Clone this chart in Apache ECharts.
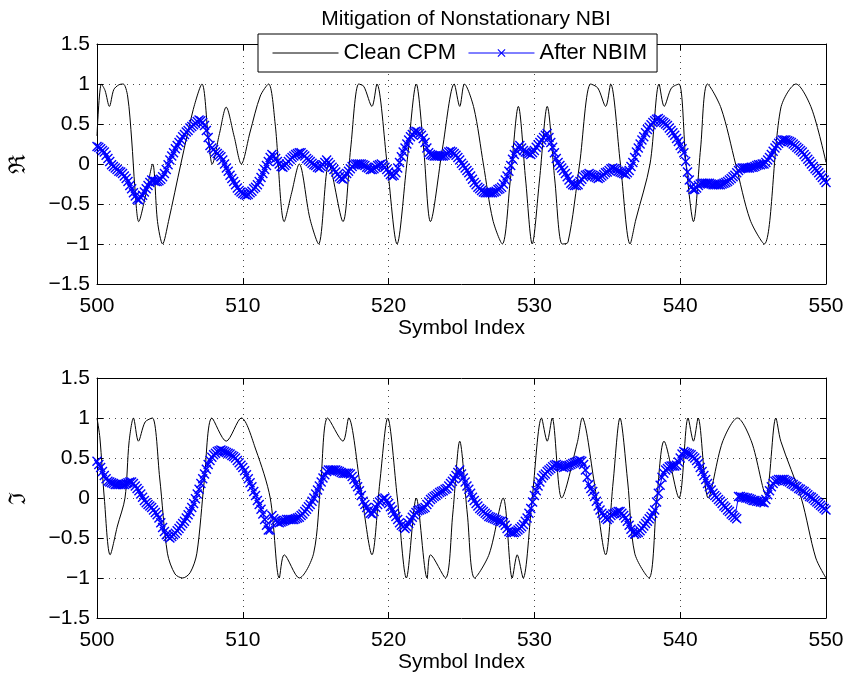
<!DOCTYPE html>
<html>
<head>
<meta charset="utf-8">
<title>Mitigation of Nonstationary NBI</title>
<script src="https://cdn.jsdelivr.net/npm/echarts@6/dist/echarts.min.js"></script>
<style>
  html, body { margin: 0; padding: 0; background: #fff; }
  #chart { width: 847px; height: 678px; }
</style>
</head>
<body>
<div id="chart"></div>
<script>
// x ticks / y ticks
const xTicks = [500, 510, 520, 530, 540, 550]
const yTicks = [-1.5, -1, -0.5, 0, 0.5, 1, 1.5]

// blue curve is sampled every 1/8 symbol, 500 .. 550 (one row per symbol)
const sampleStep = 0.125
const sampleStart = 500

// After NBIM, real part
const nbimRe = [
  0.22, 0.21, 0.19, 0.17, 0.15, 0.11, 0.07, 0.03,
  -0.01, -0.03, -0.05, -0.07, -0.09, -0.10, -0.12, -0.15,
  -0.18, -0.22, -0.27, -0.31, -0.36, -0.40, -0.44, -0.45,
  -0.42, -0.39, -0.35, -0.31, -0.27, -0.23, -0.20, -0.21,
  -0.22, -0.22, -0.21, -0.19, -0.16, -0.12, -0.07, -0.01,
  0.05, 0.10, 0.14, 0.19, 0.23, 0.27, 0.30, 0.34,
  0.37, 0.40, 0.42, 0.45, 0.47, 0.49, 0.51, 0.53,
  0.55, 0.54, 0.52, 0.48, 0.42, 0.33, 0.23, 0.20,
  0.18, 0.15, 0.13, 0.11, 0.09, 0.05, 0.00, -0.05,
  -0.09, -0.14, -0.18, -0.22, -0.26, -0.30, -0.33, -0.35,
  -0.37, -0.38, -0.39, -0.38, -0.36, -0.34, -0.31, -0.29,
  -0.26, -0.22, -0.17, -0.12, -0.07, -0.02, 0.03, 0.08,
  0.12, 0.10, 0.07, 0.03, 0.00, -0.03, -0.04, -0.02,
  0.00, 0.03, 0.06, 0.08, 0.10, 0.12, 0.13, 0.14,
  0.14, 0.12, 0.10, 0.07, 0.05, 0.03, 0.01, -0.01,
  -0.02, -0.04, -0.05, -0.03, -0.01, 0.02, 0.05, 0.02,
  -0.01, -0.04, -0.07, -0.10, -0.13, -0.16, -0.18, -0.19,
  -0.16, -0.12, -0.09, -0.06, -0.03, -0.01, 0.00, 0.00,
  0.00, 0.00, -0.01, -0.02, -0.04, -0.05, -0.07, -0.07,
  -0.06, -0.04, -0.02, -0.01, 0.00, -0.02, -0.04, -0.07,
  -0.10, -0.13, -0.15, -0.14, -0.11, -0.05, 0.02, 0.09,
  0.15, 0.20, 0.25, 0.30, 0.34, 0.37, 0.40, 0.41,
  0.40, 0.38, 0.36, 0.32, 0.27, 0.20, 0.14, 0.12,
  0.11, 0.10, 0.10, 0.10, 0.10, 0.10, 0.10, 0.11,
  0.13, 0.15, 0.16, 0.15, 0.13, 0.11, 0.08, 0.05,
  0.01, -0.02, -0.05, -0.08, -0.11, -0.15, -0.19, -0.23,
  -0.26, -0.29, -0.31, -0.33, -0.35, -0.36, -0.36, -0.36,
  -0.36, -0.36, -0.35, -0.34, -0.32, -0.31, -0.29, -0.25,
  -0.20, -0.15, -0.09, -0.02, 0.06, 0.12, 0.17, 0.21,
  0.23, 0.20, 0.17, 0.15, 0.14, 0.13, 0.12, 0.14,
  0.17, 0.21, 0.24, 0.27, 0.30, 0.33, 0.36, 0.38,
  0.33, 0.27, 0.21, 0.14, 0.07, 0.02, -0.02, -0.05,
  -0.08, -0.12, -0.16, -0.20, -0.24, -0.26, -0.27, -0.27,
  -0.26, -0.22, -0.19, -0.16, -0.14, -0.13, -0.12, -0.13,
  -0.14, -0.16, -0.17, -0.18, -0.17, -0.15, -0.13, -0.11,
  -0.10, -0.08, -0.06, -0.05, -0.06, -0.07, -0.09, -0.10,
  -0.11, -0.12, -0.13, -0.11, -0.08, -0.03, 0.02, 0.08,
  0.15, 0.20, 0.25, 0.30, 0.34, 0.39, 0.43, 0.46,
  0.49, 0.52, 0.54, 0.56, 0.57, 0.55, 0.53, 0.52,
  0.50, 0.48, 0.45, 0.42, 0.39, 0.36, 0.32, 0.28,
  0.23, 0.19, 0.14, 0.03, -0.10, -0.20, -0.29, -0.32,
  -0.32, -0.30, -0.27, -0.25, -0.24, -0.24, -0.24, -0.24,
  -0.24, -0.25, -0.26, -0.26, -0.26, -0.26, -0.26, -0.25,
  -0.24, -0.23, -0.22, -0.20, -0.18, -0.16, -0.14, -0.11,
  -0.08, -0.06, -0.05, -0.05, -0.05, -0.05, -0.05, -0.04,
  -0.04, -0.03, -0.02, -0.01, -0.01, 0.00, 0.00, 0.02,
  0.05, 0.08, 0.12, 0.16, 0.20, 0.23, 0.26, 0.28,
  0.30, 0.30, 0.30, 0.29, 0.28, 0.27, 0.25, 0.23,
  0.21, 0.19, 0.17, 0.15, 0.12, 0.09, 0.06, 0.03,
  0.00, -0.03, -0.06, -0.08, -0.11, -0.14, -0.17, -0.20,
  -0.23
]

// After NBIM, imaginary part
const nbimIm = [
  0.46, 0.42, 0.38, 0.33, 0.28, 0.24, 0.21, 0.20,
  0.19, 0.18, 0.17, 0.17, 0.17, 0.17, 0.17, 0.17,
  0.18, 0.19, 0.20, 0.20, 0.18, 0.15, 0.12, 0.09,
  0.05, 0.01, -0.03, -0.06, -0.08, -0.10, -0.12, -0.15,
  -0.18, -0.21, -0.25, -0.31, -0.37, -0.42, -0.46, -0.48,
  -0.50, -0.48, -0.46, -0.44, -0.41, -0.38, -0.35, -0.32,
  -0.29, -0.25, -0.21, -0.17, -0.12, -0.07, -0.01, 0.05,
  0.11, 0.18, 0.24, 0.30, 0.36, 0.42, 0.47, 0.51,
  0.54, 0.56, 0.58, 0.59, 0.60, 0.59, 0.58, 0.57,
  0.56, 0.55, 0.53, 0.52, 0.50, 0.47, 0.44, 0.41,
  0.38, 0.34, 0.29, 0.24, 0.19, 0.14, 0.08, 0.03,
  -0.03, -0.08, -0.14, -0.20, -0.27, -0.34, -0.40, -0.40,
  -0.22, -0.26, -0.28, -0.30, -0.31, -0.30, -0.29, -0.28,
  -0.27, -0.27, -0.27, -0.27, -0.27, -0.26, -0.25, -0.24,
  -0.22, -0.20, -0.17, -0.14, -0.11, -0.08, -0.04, 0.00,
  0.05, 0.10, 0.15, 0.20, 0.25, 0.29, 0.33, 0.35,
  0.35, 0.35, 0.35, 0.35, 0.34, 0.33, 0.32, 0.31,
  0.31, 0.31, 0.31, 0.30, 0.27, 0.23, 0.18, 0.14,
  0.09, 0.03, -0.04, -0.08, -0.12, -0.16, -0.19, -0.20,
  -0.17, -0.12, -0.08, -0.05, -0.03, -0.01, 0.00, -0.03,
  -0.07, -0.11, -0.15, -0.19, -0.23, -0.27, -0.31, -0.34,
  -0.36, -0.38, -0.36, -0.32, -0.28, -0.24, -0.21, -0.18,
  -0.16, -0.15, -0.14, -0.13, -0.12, -0.08, -0.05, -0.02,
  0.00, 0.02, 0.03, 0.05, 0.07, 0.08, 0.09, 0.11,
  0.12, 0.15, 0.18, 0.21, 0.24, 0.28, 0.32, 0.35,
  0.30, 0.25, 0.20, 0.15, 0.11, 0.06, 0.01, -0.03,
  -0.07, -0.10, -0.13, -0.15, -0.17, -0.19, -0.21, -0.23,
  -0.24, -0.25, -0.26, -0.27, -0.28, -0.29, -0.29, -0.31,
  -0.34, -0.38, -0.42, -0.43, -0.43, -0.43, -0.42, -0.40,
  -0.38, -0.36, -0.33, -0.29, -0.25, -0.19, -0.13, -0.05,
  0.03, 0.09, 0.15, 0.20, 0.25, 0.28, 0.30, 0.33,
  0.35, 0.37, 0.39, 0.41, 0.42, 0.41, 0.40, 0.39,
  0.38, 0.39, 0.40, 0.41, 0.42, 0.43, 0.44, 0.45,
  0.46, 0.47, 0.46, 0.42, 0.35, 0.26, 0.17, 0.12,
  0.08, 0.02, -0.04, -0.10, -0.15, -0.19, -0.22, -0.25,
  -0.27, -0.25, -0.22, -0.20, -0.19, -0.18, -0.17, -0.17,
  -0.19, -0.22, -0.25, -0.29, -0.34, -0.39, -0.43, -0.45,
  -0.44, -0.43, -0.41, -0.38, -0.35, -0.32, -0.29, -0.26,
  -0.23, -0.19, -0.15, -0.05, 0.06, 0.16, 0.26, 0.31,
  0.35, 0.37, 0.39, 0.40, 0.40, 0.40, 0.41, 0.45,
  0.50, 0.55, 0.58, 0.57, 0.56, 0.55, 0.54, 0.52,
  0.50, 0.47, 0.43, 0.38, 0.33, 0.28, 0.23, 0.18,
  0.14, 0.10, 0.06, 0.03, 0.01, -0.02, -0.04, -0.07,
  -0.10, -0.12, -0.15, -0.17, -0.20, -0.22, -0.24, -0.26,
  0.02, 0.02, 0.01, 0.01, 0.00, 0.00, -0.01, -0.02,
  -0.03, -0.03, -0.04, -0.04, -0.05, -0.05, -0.06, -0.02,
  0.04, 0.09, 0.14, 0.18, 0.21, 0.22, 0.23, 0.23,
  0.23, 0.23, 0.22, 0.21, 0.20, 0.18, 0.17, 0.15,
  0.14, 0.12, 0.11, 0.09, 0.08, 0.06, 0.04, 0.02,
  0.01, -0.01, -0.03, -0.05, -0.07, -0.09, -0.11, -0.13,
  -0.15
]

// Clean CPM, real part: [symbol, value] at peaks, cusps and crossings
const cleanRe = [
  [500.0, 0.35], [500.3, 1.0], [500.55, 0.92], [500.85, 0.72], [501.15, 0.93], [501.5, 0.99],
  [501.8, 1.0], [502.1, 0.85], [502.38, 0.3], [502.6, -0.3], [502.86, -0.72], [503.35, -0.38],
  [503.82, 0.0], [504.15, -0.72], [504.5, -1.0], [504.9, -0.72], [505.75, 0.0], [506.6, 0.68],
  [507.2, 1.0], [507.65, 0.3], [507.9, 0.0], [508.4, 0.38], [508.86, 0.71], [509.4, 0.35],
  [509.9, 0.0], [510.5, 0.4], [511.2, 0.85], [511.77, 1.0], [512.22, 0.5], [512.84, -0.72],
  [513.35, -0.36], [513.87, 0.0], [514.6, -0.68], [515.2, -1.0], [515.9, 0.0], [516.87, -0.72],
  [517.4, 0.2], [517.95, 1.0], [518.3, 0.97], [518.86, 0.72], [519.2, 1.0], [519.9, 0.0],
  [520.58, -1.0], [521.25, 0.0], [521.9, 1.0], [522.4, 0.2], [522.87, -0.72], [523.7, 0.2],
  [524.5, 1.0], [524.88, 0.72], [525.2, 1.0], [525.85, 0.7], [526.5, 0.0], [527.15, -0.7],
  [527.8, -1.0], [528.35, -0.2], [528.9, 0.72], [529.4, -0.2], [529.85, -1.0], [530.35, -0.2],
  [530.88, 0.72], [531.4, -0.2], [531.9, -1.0], [532.3, -0.98], [533.1, 0.0], [533.86, 1.0],
  [534.35, 0.95], [534.89, 0.72], [535.23, 1.0], [535.9, 0.0], [536.56, -1.0], [536.95, -0.7],
  [537.93, 0.0], [538.55, 1.0], [538.9, 0.72], [539.4, 0.95], [539.92, 1.0], [540.4, 0.0],
  [540.91, -0.72], [541.4, 0.2], [541.87, 1.0], [542.8, 0.7], [543.8, 0.0], [544.8, -0.7],
  [545.76, -1.0], [546.9, 0.7], [547.94, 1.0], [549.0, 0.7], [550.0, 0.02]
]

// Clean CPM, imaginary part
const cleanIm = [
  [500.0, 1.0], [500.2, 0.75], [500.5, 0.0], [500.9, -0.71], [501.4, -0.35], [501.92, 0.0],
  [502.2, 0.7], [502.5, 1.0], [502.84, 0.71], [503.3, 0.95], [503.8, 1.0], [504.3, 0.25],
  [504.83, -0.69], [505.35, -0.95], [505.88, -1.0], [506.4, -0.93], [506.85, -0.69], [507.35, 0.2],
  [507.88, 1.0], [508.86, 0.71], [509.9, 1.0], [510.9, 0.6], [511.88, 0.0], [512.5, -1.0],
  [512.84, -0.71], [513.87, -1.0], [514.86, -0.69], [515.35, 0.2], [515.82, 1.0], [516.87, 0.71],
  [517.26, 1.0], [518.1, 0.1], [518.86, -0.71], [519.4, 0.2], [519.94, 1.0], [520.6, 0.0],
  [521.22, -1.0], [521.9, 0.0], [522.64, -1.0], [522.87, -0.71], [523.9, -1.0], [524.4, -0.2],
  [524.88, 0.71], [525.4, -0.2], [525.9, -1.0], [526.9, -0.7], [527.86, 0.0], [528.48, -1.0],
  [528.82, -0.71], [529.23, -1.0], [529.85, 0.0], [530.49, 1.0], [530.88, 0.71], [531.22, 1.0],
  [531.87, 0.0], [532.94, 0.69], [533.28, 1.0], [534.1, 0.2], [534.89, -0.71], [535.4, 0.2],
  [535.87, 1.0], [536.4, 0.2], [536.88, -0.69], [537.86, -1.0], [538.4, 0.0], [538.89, 0.71],
  [539.92, 0.0], [540.54, 1.0], [540.91, 0.71], [541.23, 1.0], [541.92, 0.0], [542.9, 0.7],
  [543.93, 1.0], [544.9, 0.7], [545.88, 0.04], [546.56, 1.0], [546.9, 0.71], [548.3, 0.0],
  [549.3, -0.75], [550.0, -1.0]
]

const FONT = 'Liberation Sans'
const xMark = 'path://M0,1L1,0L5,4L9,0L10,1L6,5L10,9L9,10L5,6L1,10L0,9L4,5Z'

function withX(values) {
  return values.map((v, i) => [sampleStart + i * sampleStep, v])
}

function fmtY(v) {
  return String(v).replace('-', '\u2212')
}

const gridTops = [44, 378]

function mainX(idx) {
  return {
    type: 'value', gridIndex: idx, min: xTicks[0], max: xTicks[xTicks.length - 1], interval: 10,
    name: 'Symbol Index', nameLocation: 'middle', nameGap: 34,
    nameTextStyle: { fontFamily: FONT, fontSize: 21, color: '#000' },
    axisLine: { show: true, onZero: false, lineStyle: { color: '#000', width: 1 } },
    axisTick: { show: true, inside: true, length: 6, lineStyle: { color: '#000' } },
    axisLabel: { fontFamily: FONT, fontSize: 21, color: '#000', margin: 12 },
    splitLine: { show: true, lineStyle: { color: '#444', type: [1, 5], width: 1 } }
  }
}

function mirrorX(idx) {
  return {
    type: 'value', gridIndex: idx, position: 'top', min: 500, max: 550, interval: 10,
    axisLine: { show: true, onZero: false, lineStyle: { color: '#000', width: 1 } },
    axisTick: { show: true, inside: true, length: 6, lineStyle: { color: '#000' } },
    axisLabel: { show: false }, splitLine: { show: false }
  }
}

function mainY(idx, name) {
  return {
    type: 'value', gridIndex: idx, min: yTicks[0], max: yTicks[yTicks.length - 1], interval: 0.5,
    name: name, nameLocation: 'middle', nameRotate: 90, nameGap: 66,
    nameTextStyle: { fontFamily: 'DejaVu Serif', fontSize: 23, color: '#000' },
    axisLine: { show: true, onZero: false, lineStyle: { color: '#000', width: 1 } },
    axisTick: { show: true, inside: true, length: 6, lineStyle: { color: '#000' } },
    axisLabel: { fontFamily: FONT, fontSize: 21, color: '#000', margin: 7, formatter: fmtY },
    splitLine: { show: true, lineStyle: { color: '#444', type: [1, 5], width: 1 } }
  }
}

function mirrorY(idx) {
  return {
    type: 'value', gridIndex: idx, position: 'right', min: -1.5, max: 1.5, interval: 0.5,
    axisLine: { show: true, onZero: false, lineStyle: { color: '#000', width: 1 } },
    axisTick: { show: true, inside: true, length: 6, lineStyle: { color: '#000' } },
    axisLabel: { show: false }, splitLine: { show: false }
  }
}

function cleanSeries(idx, data) {
  return {
    name: 'Clean CPM', type: 'line', xAxisIndex: idx, yAxisIndex: idx,
    data: data, symbol: 'none', smooth: 0.3,
    lineStyle: { color: '#000', width: 1 }, itemStyle: { color: '#000' }, z: 2
  }
}

function nbimSeries(idx, values) {
  return {
    name: 'After NBIM', type: 'line', xAxisIndex: idx, yAxisIndex: idx,
    data: withX(values), symbol: xMark, symbolSize: 10, showSymbol: true,
    lineStyle: { color: '#0000ff', width: 1 }, itemStyle: { color: '#0000ff' }, z: 3
  }
}

const chart = echarts.init(document.getElementById('chart'), null, { renderer: 'canvas' })
chart.setOption({
  animation: false,
  backgroundColor: '#fff',
  title: {
    text: 'Mitigation of Nonstationary NBI', left: 461, textAlign: 'center', top: 4,
    textStyle: { fontFamily: FONT, fontSize: 21, fontWeight: 'normal', color: '#000' }
  },
  legend: {
    left: 258, top: 34, padding: [8, 10, 8, 14], itemGap: 12, itemWidth: 66, itemHeight: 10,
    backgroundColor: '#fff', borderColor: '#000', borderWidth: 1, borderRadius: 0,
    textStyle: { fontFamily: FONT, fontSize: 22, color: '#000' },
    lineStyle: { width: 1 },
    data: [
      { name: 'Clean CPM', itemStyle: { opacity: 0 } },
      { name: 'After NBIM', itemStyle: { borderWidth: 0 } }
    ],
    z: 10
  },
  grid: gridTops.map(t => ({ left: 97, right: 21, top: t, height: 240, containLabel: false })),
  xAxis: [mainX(0), mainX(1), mirrorX(0), mirrorX(1)],
  yAxis: [mainY(0, '\u211C'), mainY(1, '\u2111'), mirrorY(0), mirrorY(1)],
  series: [
    cleanSeries(0, cleanRe),
    nbimSeries(0, nbimRe),
    cleanSeries(1, cleanIm),
    nbimSeries(1, nbimIm)
  ]
})
</script>
</body>
</html>
